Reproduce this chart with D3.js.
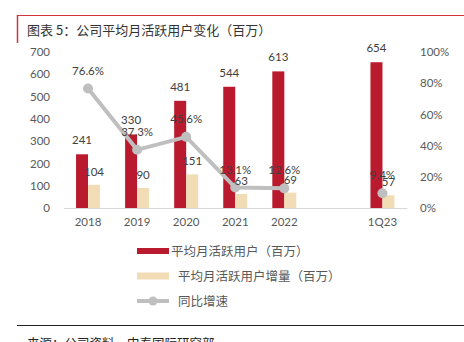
<!DOCTYPE html>
<html>
<head>
<meta charset="utf-8">
<script src="https://cdn.jsdelivr.net/npm/d3@7/dist/d3.min.js"></script>
<style>
  html, body { margin: 0; padding: 0; background: #fff; }
  svg { display: block; }
  text { font-family: Lato, "Noto Sans CJK SC", sans-serif; }
  .cjk { font-family: "Noto Sans CJK SC", sans-serif; }
</style>
</head>
<body>
<svg id="chart" width="464" height="342"></svg>
<script>
// Periods, with an empty slot before the latest quarter
const categories = ["2018", "2019", "2020", "2021", "2022", "", "1Q23"];
// Average monthly active users (millions)
const mau = [241, 330, 481, 544, 613, null, 654];
// Increase in average monthly active users (millions)
const mauIncrease = [104, 90, 151, 63, 69, null, 57];
// Year-on-year growth (%)
const yoyGrowth = [76.6, 37.3, 45.6, 13.1, 12.6, null, 9.4];
const leftTicks = [0, 100, 200, 300, 400, 500, 600, 700];
const rightTicks = [0, 20, 40, 60, 80, 100];

const RED = "#BA1A2E", BEIGE = "#F1DCB5", GREY = "#BFBFBF", TXT = "#595959";

const svg = d3.select("#chart");

// Title frame
svg.append("line").attr("x1", 17).attr("x2", 464).attr("y1", 15.5).attr("y2", 15.5)
  .attr("stroke", "#D0323E").attr("stroke-width", 1.2);
svg.append("line").attr("x1", 17.5).attr("x2", 17.5).attr("y1", 15).attr("y2", 43)
  .attr("stroke", "#D0323E").attr("stroke-width", 1.5);
svg.append("text").attr("class", "cjk").attr("x", 27).attr("y", 35)
  .attr("font-size", 13).attr("fill", "#333")
  .text("图表 5：公司平均月活跃用户变化（百万）");

const x = d3.scaleBand().domain(categories.map((c, i) => i)).range([63.5, 407]).padding(0);
const y = d3.scaleLinear().domain([0, 700]).range([208, 52]);
const y2 = d3.scaleLinear().domain([0, 100]).range([208, 52]);
const cx = i => x(i) + x.bandwidth() / 2;
const BW = 12;

// Left axis
const gl = svg.append("g").attr("transform", "translate(52,0)")
  .call(d3.axisLeft(y).tickValues(leftTicks).tickSize(0).tickPadding(2));
gl.select(".domain").remove();
gl.selectAll("text").attr("font-size", 11.5).attr("fill", TXT).attr("font-family", "Lato, sans-serif");

// Right axis
const gr = svg.append("g").attr("transform", "translate(418,0)")
  .call(d3.axisRight(y2).tickValues(rightTicks).tickSize(0).tickPadding(2).tickFormat(d => d + "%"));
gr.select(".domain").remove();
gr.selectAll("text").attr("font-size", 11.5).attr("fill", TXT).attr("font-family", "Lato, sans-serif");

// Bottom axis
const gb = svg.append("g").attr("transform", "translate(0,208)")
  .call(d3.axisBottom(x).tickSize(0).tickPadding(10).tickFormat(i => categories[i]));
gb.select(".domain").attr("stroke", "#D9D9D9").attr("stroke-width", 1.2);
gb.selectAll("text").attr("font-size", 11.5).attr("fill", TXT).attr("font-family", "Lato, sans-serif");

// Bars
const idx = categories.map((c, i) => i);
svg.append("g").selectAll("rect").data(idx.filter(i => mau[i] != null)).join("rect")
  .attr("x", i => cx(i) - BW).attr("width", BW)
  .attr("y", i => y(mau[i])).attr("height", i => y(0) - y(mau[i])).attr("fill", RED);
svg.append("g").selectAll("rect").data(idx.filter(i => mauIncrease[i] != null)).join("rect")
  .attr("x", i => cx(i)).attr("width", BW)
  .attr("y", i => y(mauIncrease[i])).attr("height", i => y(0) - y(mauIncrease[i])).attr("fill", BEIGE);

// Growth line: continuous through 2022, the quarter stands alone
const line = d3.line().defined(i => yoyGrowth[i] != null).x(i => cx(i)).y(i => y2(yoyGrowth[i]));
svg.append("path").datum(idx).attr("d", line)
  .attr("fill", "none").attr("stroke", GREY).attr("stroke-width", 4);
svg.append("g").selectAll("circle").data(idx.filter(i => yoyGrowth[i] != null)).join("circle")
  .attr("cx", i => cx(i)).attr("cy", i => y2(yoyGrowth[i])).attr("r", 5).attr("fill", GREY);

// Value labels
const lab = svg.append("g").attr("font-size", 11.5).attr("fill", "#404040").attr("text-anchor", "middle");
idx.filter(i => mau[i] != null).forEach(i => {
  lab.append("text").attr("x", cx(i) - BW / 2).attr("y", y(mau[i]) - 10).text(mau[i]);
});
idx.filter(i => mauIncrease[i] != null).forEach(i => {
  lab.append("text").attr("x", cx(i) + BW / 2).attr("y", y(mauIncrease[i]) - 9).text(mauIncrease[i]);
});
idx.filter(i => yoyGrowth[i] != null).forEach(i => {
  lab.append("text").attr("x", cx(i)).attr("y", y2(yoyGrowth[i]) - 14).text(yoyGrowth[i].toFixed(1) + "%");
});

// Legend
const lg = svg.append("g");
lg.append("rect").attr("x", 137).attr("y", 248).attr("width", 32).attr("height", 6).attr("fill", RED);
lg.append("text").attr("class", "cjk").attr("x", 171).attr("y", 255.5).attr("font-size", 12.5).attr("fill", TXT)
  .text("平均月活跃用户（百万）");
lg.append("rect").attr("x", 137).attr("y", 272.5).attr("width", 32).attr("height", 7).attr("fill", BEIGE);
lg.append("text").attr("class", "cjk").attr("x", 178).attr("y", 280.5).attr("font-size", 12.5).attr("fill", TXT)
  .text("平均月活跃用户增量（百万）");
lg.append("line").attr("x1", 137).attr("x2", 169).attr("y1", 301).attr("y2", 301)
  .attr("stroke", GREY).attr("stroke-width", 4);
lg.append("circle").attr("cx", 153).attr("cy", 301).attr("r", 4.5).attr("fill", GREY);
lg.append("text").attr("class", "cjk").attr("x", 178).attr("y", 305.5).attr("font-size", 12.5).attr("fill", TXT)
  .text("同比增速");

// Source note
svg.append("line").attr("x1", 17).attr("x2", 464).attr("y1", 325.5).attr("y2", 325.5)
  .attr("stroke", "#222").attr("stroke-width", 1.2);
svg.append("text").attr("class", "cjk").attr("x", 27).attr("y", 348).attr("font-size", 12.5).attr("fill", "#222")
  .text("来源：公司资料、中泰国际研究部");
</script>
</body>
</html>
